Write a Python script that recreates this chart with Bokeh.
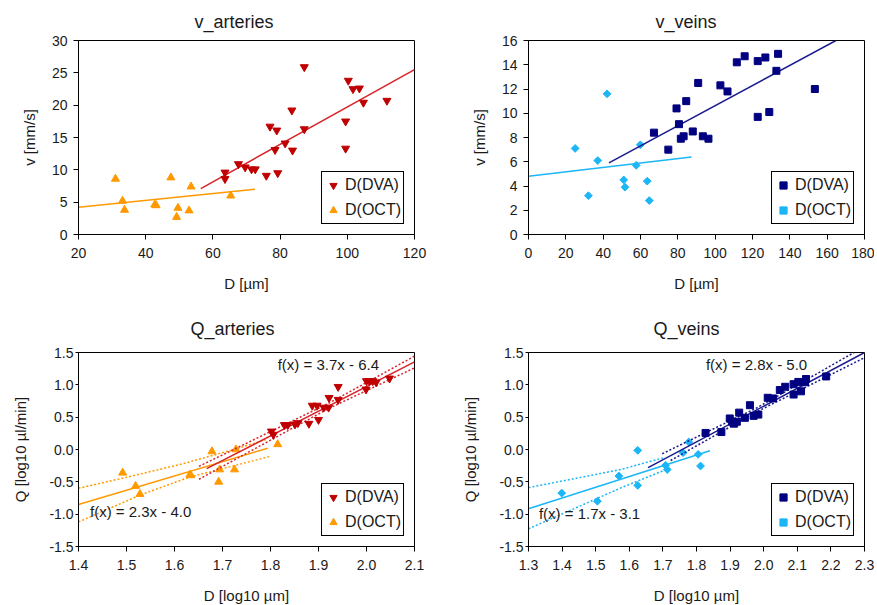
import numpy as np
from bokeh.plotting import figure
from bokeh.layouts import column, row
from bokeh.models import Range1d, FixedTicker, NumeralTickFormatter, Label, GlobalInlineStyleSheet
from bokeh.embed import file_html
from bokeh.resources import INLINE

# ---------------- data ----------------
# v_arteries
va_dva_d = [63.6, 63.6, 67.6, 69.6, 71.5, 72.6, 75.9, 77.0, 79.0, 78.5, 79.3, 81.5,
            83.5, 83.7, 87.2, 87.2, 99.5, 99.5, 100.3, 101.7, 103.6, 104.8, 111.8]
va_dva_v = [9.6, 8.6, 10.9, 10.4, 10.1, 10.1, 9.1, 16.7, 16.1, 13.1, 9.5, 14.1,
            19.2, 13.0, 16.3, 25.9, 17.5, 13.3, 23.8, 22.5, 22.6, 20.4, 20.7]
va_oct_d = [31.0, 33.1, 33.7, 42.7, 43.1, 47.5, 49.2, 49.6, 52.9, 53.5, 65.3]
va_oct_v = [8.6, 5.2, 3.8, 4.6, 4.5, 8.8, 2.7, 4.1, 3.7, 7.4, 6.0]
va_fit_dva_d = [56.4, 120.0]
va_fit_dva_v = [7.1, 25.5]
va_fit_oct_d = [20.0, 72.5]
va_fit_oct_v = [4.2, 7.0]

# v_veins
vv_dva_d = [67.2, 74.9, 79.3, 80.6, 81.6, 83.1, 84.5, 88.0, 90.9, 93.4, 96.4, 102.8,
            106.6, 111.6, 115.8, 122.8, 122.8, 126.9, 129.0, 132.8, 133.7, 153.4]
vv_dva_v = [8.4, 7.0, 10.4, 9.1, 7.9, 8.1, 11.0, 8.5, 12.5, 8.1, 7.9, 12.3,
            11.8, 14.2, 14.7, 14.3, 9.7, 14.6, 10.1, 13.5, 14.9, 12.0]
vv_oct_d = [25.0, 32.1, 37.1, 42.1, 51.0, 51.7, 57.7, 59.9, 63.6, 64.7]
vv_oct_v = [7.1, 3.2, 6.1, 11.6, 4.5, 3.9, 5.7, 7.4, 4.4, 2.8]
vv_fit_dva_d = [43.1, 164.7]
vv_fit_dva_v = [5.9, 16.0]
vv_fit_oct_d = [0.0, 87.3]
vv_fit_oct_v = [4.8, 6.4]

# Q_arteries (log10)
qa_dva_d = [1.802, 1.806, 1.829, 1.836, 1.851, 1.857, 1.880, 1.900, 1.887, 1.897, 1.911,
            1.921, 1.922, 1.941, 1.941, 1.999, 2.000, 2.006, 2.013, 2.020, 2.048]
qa_dva_q = [0.28, 0.23, 0.38, 0.38, 0.39, 0.41, 0.40, 0.46, 0.68, 0.68, 0.65,
            0.65, 0.80, 0.77, 0.97, 0.93, 1.06, 1.06, 1.06, 1.04, 1.10]
qa_oct_d = [1.492, 1.519, 1.528, 1.632, 1.634, 1.678, 1.694, 1.692, 1.728, 1.725, 1.815]
qa_oct_q = [-0.36, -0.565, -0.69, -0.39, -0.40, -0.03, -0.31, -0.50, 0.0, -0.31, 0.08]
qa_fit_dva_d = [1.667, 2.1]
qa_fit_dva_q = [-0.297, 1.355]
qa_up_dva_d = [1.651, 1.92, 2.1]
qa_up_dva_q = [-0.26, 0.71, 1.443]
qa_lo_dva_d = [1.651, 1.92, 2.1]
qa_lo_dva_q = [-0.46, 0.63, 1.262]
qa_fit_oct_d = [1.4, 1.794]
qa_fit_oct_q = [-0.85, 0.02]
qa_up_oct_d = [1.4, 1.5, 1.613, 1.724, 1.79]
qa_up_oct_q = [-0.60, -0.43, -0.229, 0.0, 0.15]
qa_lo_oct_d = [1.4, 1.53, 1.63, 1.80]
qa_lo_oct_q = [-1.12, -0.70, -0.43, -0.105]

# Q_veins (log10)
qv_dva_d = [1.827, 1.874, 1.899, 1.906, 1.912, 1.920, 1.927, 1.944, 1.959, 1.970, 1.984,
            2.012, 2.028, 2.048, 2.064, 2.089, 2.089, 2.103, 2.111, 2.123, 2.126, 2.186]
qv_dva_q = [0.256, 0.27, 0.48, 0.43, 0.40, 0.43, 0.57, 0.49, 0.685, 0.52, 0.54,
            0.80, 0.79, 0.92, 0.97, 1.01, 0.85, 1.045, 0.90, 1.04, 1.09, 1.13]
qv_oct_d = [1.399, 1.505, 1.569, 1.625, 1.625, 1.708, 1.713, 1.760, 1.777, 1.805, 1.812]
qv_oct_q = [-0.674, -0.80, -0.41, -0.013, -0.555, -0.245, -0.31, -0.05, 0.116, -0.075, -0.255]
qv_fit_dva_d = [1.656, 2.3]
qv_fit_dva_q = [-0.281, 1.5]
qv_up_dva_d = [1.698, 1.98, 2.269]
qv_up_dva_q = [-0.065, 0.645, 1.5]
qv_lo_dva_d = [1.723, 1.98, 2.3]
qv_lo_dva_q = [-0.17, 0.585, 1.42]
qv_fit_oct_d = [1.3, 1.84]
qv_fit_oct_q = [-0.915, -0.02]
qv_up_oct_d = [1.3, 1.574, 1.70]
qv_up_oct_q = [-0.59, -0.31, -0.13]
qv_lo_oct_d = [1.3, 1.574, 1.70]
qv_lo_oct_q = [-1.227, -0.596, -0.33]

# axis ticks
va_xticks = [20, 40, 60, 80, 100, 120]
va_yticks = [0, 5, 10, 15, 20, 25, 30]
vv_xticks = [0, 20, 40, 60, 80, 100, 120, 140, 160, 180]
vv_yticks = [0, 2, 4, 6, 8, 10, 12, 14, 16]
qa_xticks = [1.4, 1.5, 1.6, 1.7, 1.8, 1.9, 2.0, 2.1]
qv_xticks = [1.3, 1.4, 1.5, 1.6, 1.7, 1.8, 1.9, 2.0, 2.1, 2.2, 2.3]
q_yticks = [-1.5, -1.0, -0.5, 0.0, 0.5, 1.0, 1.5]

# ---------------- styling ----------------
FONT = "Liberation Sans"
TXT = "#1a1a1a"
RED_M = "#C00000"
RED_L = "#D8232A"
ORA = "#FF9900"
NAVY = "#000080"
NAVY_L = "#1A1A8E"
LBLUE = "#1CB6F6"
FW, FH = 336, 194


def base_fig(xr, yr, xticks, yticks, xlabel, ylabel, borders, title, title_off, title_standoff,
             numfmt=False):
    bl, br, bt, bb = borders
    p = figure(frame_width=FW, frame_height=FH, x_range=Range1d(*xr), y_range=Range1d(*yr),
               output_backend="svg", toolbar_location=None,
               min_border_left=bl, min_border_right=br, min_border_top=bt, min_border_bottom=bb)
    p.grid.visible = False
    p.outline_line_color = "black"
    p.outline_line_alpha = 1.0
    p.outline_line_width = 1
    p.xaxis.ticker = FixedTicker(ticks=xticks, minor_ticks=[])
    p.yaxis.ticker = FixedTicker(ticks=yticks, minor_ticks=[])
    if numfmt:
        p.xaxis.formatter = NumeralTickFormatter(format="0.0")
        p.yaxis.formatter = NumeralTickFormatter(format="0.0")
    p.xaxis.axis_label = xlabel
    p.yaxis.axis_label = ylabel
    for ax in (p.xaxis[0], p.yaxis[0]):
        ax.axis_line_color = "black"
        ax.major_tick_line_color = "black"
        ax.major_tick_out = 5
        ax.major_tick_in = 0
        ax.minor_tick_out = 0
        ax.minor_tick_in = 0
        ax.major_label_text_font = FONT
        ax.major_label_text_font_size = "14px"
        ax.major_label_text_color = TXT
        ax.axis_label_text_font = FONT
        ax.axis_label_text_font_size = "15px"
        ax.axis_label_text_font_style = "normal"
        ax.axis_label_text_color = TXT
    p.xaxis.major_label_standoff = 8
    p.xaxis.axis_label_standoff = 14
    if numfmt:
        p.yaxis.major_tick_out = 3
        p.yaxis.major_label_standoff = 2
        p.yaxis.axis_label_standoff = 17
    else:
        p.yaxis.major_label_standoff = 6
        p.yaxis.axis_label_standoff = 11
    p.title.text = title
    p.title.align = "left"
    p.title.offset = title_off
    p.title.standoff = title_standoff
    p.title.text_font = FONT
    p.title.text_font_size = "18px"
    p.title.text_font_style = "normal"
    p.title.text_color = TXT
    return p


def style_legend(p):
    leg = p.legend[0]
    leg.location = "bottom_right"
    leg.margin = 10
    leg.padding = 2
    leg.spacing = 3
    leg.label_height = 22
    leg.glyph_height = 22
    leg.glyph_width = 18
    leg.label_standoff = 3
    leg.label_text_font = FONT
    leg.label_text_font_size = "16px"
    leg.label_text_color = TXT
    leg.border_line_color = "black"
    leg.border_line_width = 1
    leg.border_line_alpha = 1.0
    leg.background_fill_alpha = 1.0


def eq_label(p, x, y, text):
    p.add_layout(Label(x=x, y=y, text=text, text_align="left", text_baseline="middle",
                       text_font=FONT, text_font_size="15px", text_color=TXT))


LW = 1.5
DASH = "2 2"

# ---- v_arteries ----
p1 = base_fig((20, 120), (0, 30), va_xticks, va_yticks, "D [µm]", "v [mm/s]",
              (78, 30, 39, 60), "v_arteries", 116, 18)
p1.line(va_fit_oct_d, va_fit_oct_v, color=ORA, line_width=LW)
p1.scatter(va_oct_d, va_oct_v, marker="triangle", size=8, fill_color=ORA, line_color=ORA,
           legend_label="D(OCT)")
p1.line(va_fit_dva_d, va_fit_dva_v, color=RED_L, line_width=LW)
p1.scatter(va_dva_d, va_dva_v, marker="inverted_triangle", size=8, fill_color=RED_M,
           line_color=RED_M, legend_label="D(DVA)")
p1.legend[0].items = [p1.legend[0].items[1], p1.legend[0].items[0]]
style_legend(p1)

# ---- v_veins ----
p2 = base_fig((0, 180), (0, 16), vv_xticks, vv_yticks, "D [µm]", "v [mm/s]",
              (84, 10, 39, 60), "v_veins", 127, 18)
p2.line(vv_fit_oct_d, vv_fit_oct_v, color=LBLUE, line_width=LW)
p2.scatter(vv_oct_d, vv_oct_v, marker="square", angle=np.pi / 4, size=5.5, fill_color=LBLUE,
           line_color=LBLUE, legend_label="D(OCT)")
p2.line(vv_fit_dva_d, vv_fit_dva_v, color=NAVY_L, line_width=LW)
p2.scatter(vv_dva_d, vv_dva_v, marker="square", size=7, fill_color=NAVY, line_color=NAVY,
           legend_label="D(DVA)")
p2.legend[0].items = [p2.legend[0].items[1], p2.legend[0].items[0]]
style_legend(p2)

# ---- Q_arteries ----
p3 = base_fig((1.4, 2.1), (-1.5, 1.5), qa_xticks, q_yticks, "D [log10 µm]", "Q [log10 µl/min]",
              (78, 30, 58, 50), "Q_arteries", 112, 27, numfmt=True)
p3.line(qa_fit_oct_d, qa_fit_oct_q, color=ORA, line_width=LW)
p3.line(qa_up_oct_d, qa_up_oct_q, color=ORA, line_width=LW, line_dash=DASH)
p3.line(qa_lo_oct_d, qa_lo_oct_q, color=ORA, line_width=LW, line_dash=DASH)
p3.scatter(qa_oct_d, qa_oct_q, marker="triangle", size=8, fill_color=ORA, line_color=ORA,
           legend_label="D(OCT)")
p3.line(qa_fit_dva_d, qa_fit_dva_q, color=RED_L, line_width=LW)
p3.line(qa_up_dva_d, qa_up_dva_q, color=RED_L, line_width=LW, line_dash=DASH)
p3.line(qa_lo_dva_d, qa_lo_dva_q, color=RED_L, line_width=LW, line_dash=DASH)
p3.scatter(qa_dva_d, qa_dva_q, marker="inverted_triangle", size=8, fill_color=RED_M,
           line_color=RED_M, legend_label="D(DVA)")
p3.legend[0].items = [p3.legend[0].items[1], p3.legend[0].items[0]]
style_legend(p3)
eq_label(p3, 1.815, 1.32, "f(x) = 3.7x - 6.4")
eq_label(p3, 1.424, -0.958, "f(x) = 2.3x - 4.0")

# ---- Q_veins ----
p4 = base_fig((1.3, 2.3), (-1.5, 1.5), qv_xticks, q_yticks, "D [log10 µm]", "Q [log10 µl/min]",
              (84, 10, 58, 50), "Q_veins", 125, 27, numfmt=True)
p4.line(qv_fit_oct_d, qv_fit_oct_q, color=LBLUE, line_width=LW)
p4.line(qv_up_oct_d, qv_up_oct_q, color=LBLUE, line_width=LW, line_dash=DASH)
p4.line(qv_lo_oct_d, qv_lo_oct_q, color=LBLUE, line_width=LW, line_dash=DASH)
p4.scatter(qv_oct_d, qv_oct_q, marker="square", angle=np.pi / 4, size=5.5, fill_color=LBLUE,
           line_color=LBLUE, legend_label="D(OCT)")
p4.line(qv_fit_dva_d, qv_fit_dva_q, color=NAVY_L, line_width=LW)
p4.line(qv_up_dva_d, qv_up_dva_q, color=NAVY_L, line_width=LW, line_dash=DASH)
p4.line(qv_lo_dva_d, qv_lo_dva_q, color=NAVY_L, line_width=LW, line_dash=DASH)
p4.scatter(qv_dva_d, qv_dva_q, marker="square", size=7, fill_color=NAVY, line_color=NAVY,
           legend_label="D(DVA)")
p4.legend[0].items = [p4.legend[0].items[1], p4.legend[0].items[0]]
style_legend(p4)
eq_label(p4, 1.828, 1.32, "f(x) = 2.8x - 5.0")
eq_label(p4, 1.331, -0.994, "f(x) = 1.7x - 3.1")

layout = column(row(p1, p2), row(p3, p4))
layout.stylesheets = [GlobalInlineStyleSheet(css="html, body { overflow: hidden; }")]

open("out.html", "w").write(file_html(layout, INLINE))
